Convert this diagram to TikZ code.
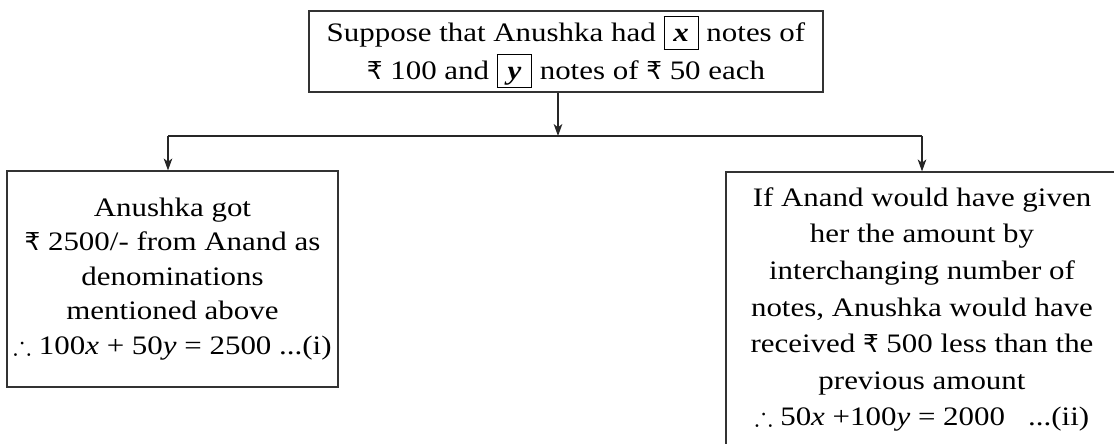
\documentclass[tikz,border=0pt]{standalone}
\usepackage{amssymb}
\usepackage{fontspec}
\setmainfont{Liberation Serif}[FakeStretch=1.16]
\newfontfamily\rupeefont{DejaVu Sans}
\usetikzlibrary{arrows.meta}
\newcommand\Rs{{\rupeefont\fontsize{18.5}{18.5}\selectfont ₹}}
\newcommand\nbox[1]{{\setlength\fboxsep{0pt}\setlength\fboxrule{0.7pt}\fbox{\makebox[25pt]{\rule[-5pt]{0pt}{24pt}\textbf{\textit{#1}}}}}}
\begin{document}
\begin{tikzpicture}[x=0.75pt,y=-0.75pt,
  box/.style={draw=black!80, line width=0.9pt, inner sep=0pt, align=center},
  conn/.style={draw=black!85, line width=0.9pt},
  arr/.style={conn, -{Stealth[length=9pt,width=6.5pt,inset=2.5pt]}}]
\useasboundingbox (0,0) rectangle (1114,443);
\clip (0,0) rectangle (1114,443);
\node[box, minimum width=385.5pt, minimum height=60.75pt,
  font=\fontsize{20}{28.5}\selectfont] (top) at (566,51.5)
  {Suppose that Anushka had \nbox{x} notes of\\ \Rs\ 100 and \nbox{y} notes of \Rs\ 50 each};
\node[box, minimum width=248.25pt, minimum height=162pt,
  font=\fontsize{20}{25.9}\selectfont] (left) at (172.5,279)
  {Anushka got\\ \Rs\ 2500/- from Anand as\\ denominations\\ mentioned above\\
   $\therefore$ 100\textit{x} +\ 50\textit{y} = 2500 ...(i)};
\node[box, minimum width=294pt, minimum height=206.25pt,
  font=\fontsize{20}{27.4}\selectfont] (right) at (922,309.5)
  {If Anand would have given\\ her the amount by\\ interchanging number of\\
   notes, Anushka would have\\ received \Rs\ 500 less than the\\ previous amount\\
   $\therefore$ 50\textit{x} +100\textit{y} = 2000\ \ \ ...(ii)};
\coordinate (j) at (558,136);
\coordinate (jl) at (168,136);
\coordinate (jr) at (922,136);
\draw[arr] (top.south -| j) -- (j);
\draw[conn] (jl) -- (jr);
\draw[arr] (jl) -- (left.north -| jl);
\draw[arr] (jr) -- (right.north -| jr);
\end{tikzpicture}
\end{document}
